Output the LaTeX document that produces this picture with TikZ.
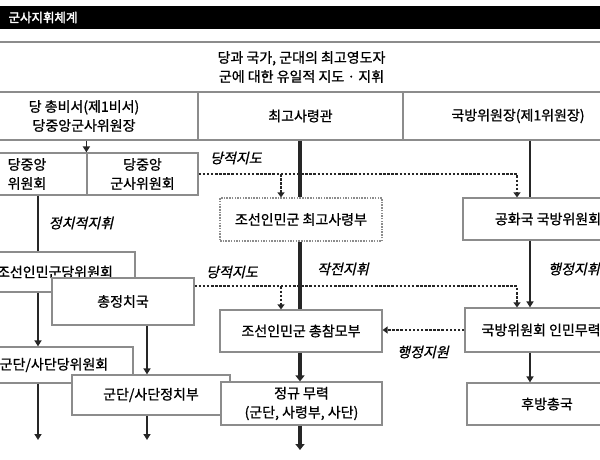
\documentclass[tikz,border=0pt]{standalone}
\usepackage{fontspec}
\setmainfont{Noto Sans CJK KR}[FakeBold=0.9]
\newfontfamily\slantfont{Noto Sans CJK KR}[FakeSlant=0.22, FakeBold=0.9]
\newfontfamily\headfont{Noto Sans CJK KR}[FakeBold=2.4]
\usetikzlibrary{arrows.meta}
\definecolor{boxgray}{HTML}{8C8C8C}
\definecolor{inkgray}{HTML}{262626}
\begin{document}
\begin{tikzpicture}[
        x=1pt, y=-1pt,
        font=\fontsize{14}{19}\selectfont,
        cell/.style={draw=boxgray, line width=1.2pt, fill=white, inner sep=0pt, align=center},
        dotbox/.style={cell, dash pattern=on 1.5pt off 1.2pt},
        tag/.style={font=\slantfont\fontsize{14}{16}\selectfont, inner sep=0pt},
        link/.style={draw=inkgray, line width=1.8pt},
        arr/.style={link, -{Triangle[length=6pt,width=7pt]}},
        spine/.style={draw=inkgray, line width=4.5pt},
        guide/.style={draw=inkgray, line width=2pt, dash pattern=on 2.5pt off 1.6pt},
        garr/.style={guide, -{Triangle[length=5pt,width=7pt]}}
      ]
      \useasboundingbox (0,0) rectangle (600,460);
      \clip (0,0) rectangle (600,460);
      \fill[black] (0,6) rectangle (600,29);
      \node[anchor=west, text=white, font=\headfont\fontsize{12.5}{14}\selectfont] (title) at (5,17.5) {군사지휘체계};

      \node[cell, minimum width=663, minimum height=50] (leader) at (301.5,67)
        {당과 국가, 군대의 최고영도자\\군에 대한 유일적 지도 · 지휘};
      \node[cell, minimum width=228, minimum height=48] (secretary) at (84,116)
        {당 총비서(제1비서)\\당중앙군사위원장};
      \node[cell, minimum width=205, minimum height=48] (commander) at (300.5,116) {최고사령관};
      \node[cell, minimum width=230, minimum height=48] (chairman) at (518,116) {국방위원장(제1위원장)};

      \node[cell, minimum width=120, minimum height=42] (cc) at (27,174) {당중앙\\위원회};
      \node[cell, minimum width=111, minimum height=42] (cmc) at (142.5,174) {당중앙\\군사위원회};
      \node[dotbox, minimum width=162, minimum height=43] (supreme) at (301,219.5) {조선인민군 최고사령부};
      \node[cell, minimum width=170, minimum height=42] (ndc) at (548,219) {공화국 국방위원회};

      \node[cell, minimum width=160, minimum height=40] (kpaparty) at (55,272) {조선인민군당위원회};
      \node[cell, minimum width=142, minimum height=47] (gpb) at (123,301.5) {총정치국};
      \node[cell, minimum width=162, minimum height=42] (gs) at (301,331) {조선인민군 총참모부};
      \node[cell, minimum width=165, minimum height=44] (mpaf) at (547.5,330) {국방위원회 인민무력부};

      \node[cell, minimum width=158, minimum height=36] (corpsparty) at (54,365) {군단/사단당위원회};
      \node[cell, minimum width=158, minimum height=40] (corpspol) at (151,395) {군단/사단정치부};
      \node[cell, minimum width=161, minimum height=43] (regular) at (301.5,403.5) {정규 무력\\(군단, 사령부, 사단)};
      \node[cell, minimum width=160, minimum height=42] (rear) at (547,404) {후방총국};

      \coordinate (leftx) at (38,0);
      \coordinate (polx) at (147,0);
      \coordinate (midx) at (300,0);
      \coordinate (firstx) at (281,0);
      \coordinate (turnx) at (517,0);
      \coordinate (rightx) at (530,0);
      \coordinate (lead) at ([yshift=-9pt]gpb.north east);
      \coordinate (leftend) at (38,440);
      \coordinate (polend) at (147,440);
      \coordinate (midend) at (300,450);

      \draw[arr] (cmc.west |- secretary.south) -- (cmc.north west);
      \draw[spine] (midx |- commander.south) -- (midx |- supreme.north);
      \draw[spine] (midx |- supreme.south) -- (midx |- gs.north);
      \draw[spine, -{Triangle[length=6pt,width=9pt]}] (midx |- gs.south) -- (midx |- regular.north);
      \draw[spine, -{Triangle[length=6pt,width=9pt]}] (midx |- regular.south) -- (midend);

      \draw[link] (leftx |- cc.south) -- (leftx |- kpaparty.north);
      \draw[arr] (leftx |- kpaparty.south) -- (leftx |- corpsparty.north);
      \draw[arr] (leftx |- corpsparty.south) -- (leftend);
      \draw[arr] (polx |- gpb.south) -- (polx |- corpspol.north);
      \draw[arr] (polx |- corpspol.south) -- (polend);

      \draw[link] (rightx |- chairman.south) -- (rightx |- ndc.north);
      \draw[arr] (rightx |- ndc.south) -- (rightx |- mpaf.north);
      \draw[arr] (rightx |- mpaf.south) -- (rightx |- rear.north);

      \draw[garr] (cmc.east) -| (turnx |- ndc.north);
      \draw[garr] (firstx |- cmc.east) -- (firstx |- supreme.north);
      \draw[garr] (lead) -| (turnx |- mpaf.north);
      \draw[garr] (firstx |- lead) -- (firstx |- gs.north);
      \draw[garr] (mpaf.west) -- (mpaf.west -| gs.east);

      \node[tag] (partyguide) at (236,158) {당적지도};
      \node[tag] (partyguide2) at (232,272) {당적지도};
      \node[tag] (political) at (81,223) {정치적지휘};
      \node[tag] (operation) at (343,269) {작전지휘};
      \node[tag, anchor=west] (admin) at (548,269) {행정지휘};
      \node[tag] (support) at (423,352) {행정지원};
\end{tikzpicture}
\end{document}
